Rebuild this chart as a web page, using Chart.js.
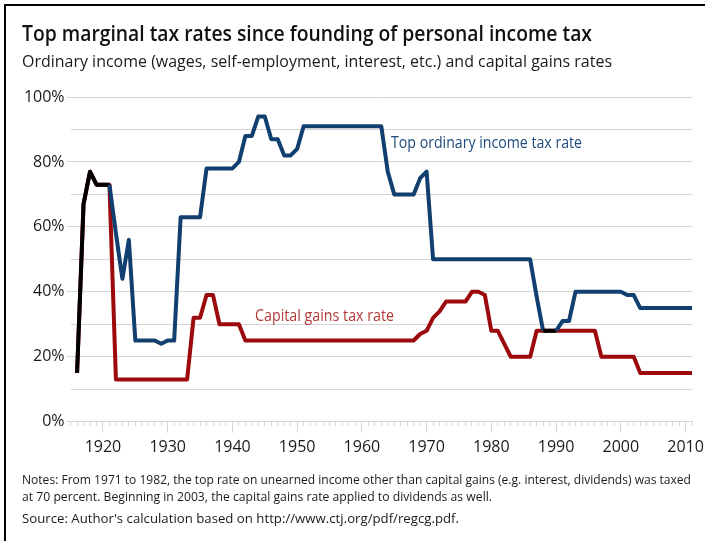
<!DOCTYPE html>
<html>
<head>
<meta charset="utf-8">
<title>Top marginal tax rates</title>
<script src="https://cdn.jsdelivr.net/npm/chart.js@4.4.1/dist/chart.umd.min.js"></script>
<style>
    html, body { margin: 0; padding: 0; background: #fff; }
    body {
        width: 705px;
        height: 541px;
        position: relative;
        overflow: hidden;
        font-family: 'Open Sans', sans-serif;
        color: #1a1a1a;
    }
    #frame {
        position: absolute;
        left: 4px;
        top: 4px;
        right: -10px;
        bottom: -10px;
        border-top: 2px solid #000;
        border-left: 2px solid #000;
    }
    #chart { position: absolute; left: 0; top: 0; }
    .txt {
        position: absolute;
        left: 22px;
        white-space: nowrap;
        line-height: 1;
        transform-origin: 0 0;
    }
    .title { top: 21px; font-size: 22px; font-weight: 600; color: #111; }
    .subtitle { top: 52px; font-size: 17px; color: #1a1a1a; }
    .note { font-size: 13px; color: #1a1a1a; }
</style>
</head>
<body>
<div id="frame"></div>
<canvas id="chart" width="705" height="541"></canvas>
<div class="txt title" data-width="570">Top marginal tax rates since founding of personal income tax</div>
<div class="txt subtitle" data-width="590">Ordinary income (wages, self-employment, interest, etc.) and capital gains rates</div>
<div class="txt note" style="top: 473px" data-width="669">Notes: From 1971 to 1982, the top rate on unearned income other than capital gains (e.g. interest, dividends) was taxed</div>
<div class="txt note" style="top: 490px" data-width="470">at 70 percent. Beginning in 2003, the capital gains rate applied to dividends as well.</div>
<div class="txt note" style="top: 512px" data-width="437">Source: Author's calculation based on http://www.ctj.org/pdf/regcg.pdf.</div>

<script>
// Data
const years = [
    1916, 1917, 1918, 1919,
    1920, 1921, 1922, 1923, 1924, 1925, 1926, 1927, 1928, 1929,
    1930, 1931, 1932, 1933, 1934, 1935, 1936, 1937, 1938, 1939,
    1940, 1941, 1942, 1943, 1944, 1945, 1946, 1947, 1948, 1949,
    1950, 1951, 1952, 1953, 1954, 1955, 1956, 1957, 1958, 1959,
    1960, 1961, 1962, 1963, 1964, 1965, 1966, 1967, 1968, 1969,
    1970, 1971, 1972, 1973, 1974, 1975, 1976, 1977, 1978, 1979,
    1980, 1981, 1982, 1983, 1984, 1985, 1986, 1987, 1988, 1989,
    1990, 1991, 1992, 1993, 1994, 1995, 1996, 1997, 1998, 1999,
    2000, 2001, 2002, 2003, 2004, 2005, 2006, 2007, 2008, 2009,
    2010, 2011
];

// Top ordinary income tax rate (%)
const ordinaryRate = [
    15, 67, 77, 73,
    73, 73, 58, 44, 56, 25, 25, 25, 25, 24,
    25, 25, 63, 63, 63, 63, 78, 78, 78, 78,
    78, 80, 88, 88, 94, 94, 87, 87, 82, 82,
    84, 91, 91, 91, 91, 91, 91, 91, 91, 91,
    91, 91, 91, 91, 77, 70, 70, 70, 70, 75,
    77, 50, 50, 50, 50, 50, 50, 50, 50, 50,
    50, 50, 50, 50, 50, 50, 50, 38.5, 28, 28,
    28, 31, 31, 40, 40, 40, 40, 40, 40, 40,
    40, 39, 39, 35, 35, 35, 35, 35, 35, 35,
    35, 35
];

// Capital gains tax rate (%)
const capitalGainsRate = [
    15, 67, 77, 73,
    73, 73, 13, 13, 13, 13, 13, 13, 13, 13,
    13, 13, 13, 13, 32, 32, 39, 39, 30, 30,
    30, 30, 25, 25, 25, 25, 25, 25, 25, 25,
    25, 25, 25, 25, 25, 25, 25, 25, 25, 25,
    25, 25, 25, 25, 25, 25, 25, 25, 25, 27,
    28, 32, 34, 37, 37, 37, 37, 40, 40, 39,
    28, 28, 24, 20, 20, 20, 20, 28, 28, 28,
    28, 28, 28, 28, 28, 28, 28, 20, 20, 20,
    20, 20, 20, 15, 15, 15, 15, 15, 15, 15,
    15, 15
];

// Labelled ticks
const yLabelValues = [0, 20, 40, 60, 80, 100];
const xLabelYears = [1920, 1930, 1940, 1950, 1960, 1970, 1980, 1990, 2000, 2010];

// Colors
const BLUE = '#113f6f';
const RED = '#9c0a0e';
const BOTH = '#000000';
const GRID = '#d5d5d5';
const TICK_TEXT = '#1a1a1a';

// Stretch html text lines to their measured width in the reference
function fitTextWidths() {
    document.querySelectorAll('.txt').forEach(el => {
        const target = parseFloat(el.dataset.width);
        const w = el.getBoundingClientRect().width;
        if (w > 0) el.style.transform = `scaleX(${target / w})`;
    });
}

// Both rates equal at a given index -> drawn black
function sameRate(i) {
    return ordinaryRate[i] === capitalGainsRate[i];
}

// Inline series labels, placed in data coordinates
const seriesLabels = [
    { text: 'Top ordinary income tax rate', year: 1964.5, value: 85.8, width: 191, color: '#1d4a7b' },
    { text: 'Capital gains tax rate', year: 1943.5, value: 32.4, width: 139, color: '#b23a37' }
];

const seriesLabelPlugin = {
    id: 'seriesLabelPlugin',
    afterDatasetsDraw(chart) {
        const { ctx, scales } = chart;
        ctx.save();
        ctx.font = '400 17px "Open Sans"';
        ctx.textBaseline = 'middle';
        ctx.textAlign = 'left';
        seriesLabels.forEach(lbl => {
            const px = scales.x.getPixelForValue(lbl.year);
            const py = scales.y.getPixelForValue(lbl.value);
            const w = ctx.measureText(lbl.text).width;
            ctx.save();
            ctx.translate(px, py);
            ctx.scale(lbl.width / w, 1);
            ctx.fillStyle = lbl.color;
            ctx.fillText(lbl.text, 0, 0);
            ctx.restore();
        });
        ctx.restore();
    }
};

function drawChart() {
    const ctx = document.getElementById('chart').getContext('2d');
    new Chart(ctx, {
        type: 'line',
        data: {
            datasets: [{
                label: 'Top ordinary income tax rate',
                data: years.map((yr, i) => ({ x: yr, y: ordinaryRate[i] })),
                borderColor: BLUE,
                borderWidth: 4,
                borderJoinStyle: 'round',
                borderCapStyle: 'butt',
                pointRadius: 0,
                tension: 0,
                segment: {
                    borderColor: c => (sameRate(c.p0DataIndex) && sameRate(c.p1DataIndex)) ? BOTH : undefined
                }
            }, {
                label: 'Capital gains tax rate',
                data: years.map((yr, i) => ({ x: yr, y: capitalGainsRate[i] })),
                borderColor: RED,
                borderWidth: 4,
                borderJoinStyle: 'round',
                borderCapStyle: 'butt',
                pointRadius: 0,
                tension: 0
            }]
        },
        options: {
            responsive: false,
            animation: false,
            devicePixelRatio: 1,
            layout: {
                padding: { top: 97, right: 13, bottom: 79.3, left: 0 }
            },
            plugins: {
                legend: { display: false },
                tooltip: { enabled: false }
            },
            scales: {
                x: {
                    type: 'linear',
                    min: 1915,
                    max: 2011,
                    afterFit: scale => { scale.height = 40; },
                    border: { display: true, color: GRID, width: 1 },
                    grid: {
                        drawOnChartArea: false,
                        drawTicks: true,
                        tickLength: 11,
                        tickColor: GRID,
                        tickBorderDash: c => (c.tick && xLabelYears.includes(c.tick.value)) ? [] : [4, 30]
                    },
                    ticks: {
                        stepSize: 1,
                        autoSkip: false,
                        maxRotation: 0,
                        minRotation: 0,
                        padding: 5,
                        color: TICK_TEXT,
                        font: { family: 'Open Sans', size: 16 },
                        callback: v => xLabelYears.includes(v) ? String(v) : ''
                    }
                },
                y: {
                    min: 0,
                    max: 100,
                    afterFit: scale => { scale.width = 70.6; },
                    border: { display: false },
                    grid: {
                        color: GRID,
                        lineWidth: 1,
                        tickLength: 4,
                        tickColor: c => (c.tick && yLabelValues.includes(c.tick.value)) ? GRID : 'rgba(0,0,0,0)'
                    },
                    ticks: {
                        stepSize: 10,
                        padding: 2,
                        color: TICK_TEXT,
                        font: { family: 'Open Sans', size: 16 },
                        callback: v => yLabelValues.includes(v) ? v + '%' : ''
                    }
                }
            }
        },
        plugins: [seriesLabelPlugin]
    });
}

document.addEventListener('DOMContentLoaded', () => {
    document.fonts.ready.then(() => {
        fitTextWidths();
        drawChart();
    });
});
</script>
</body>
</html>
